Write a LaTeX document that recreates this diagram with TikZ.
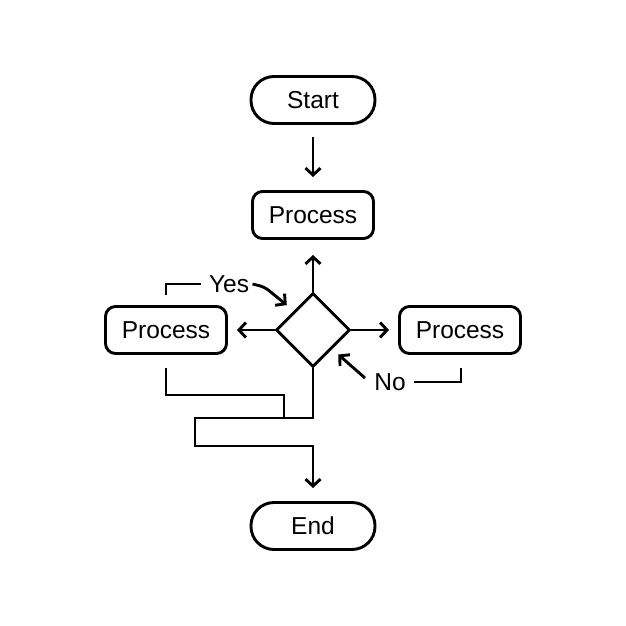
\documentclass[tikz,border=0pt]{standalone}
\usepackage{fontspec}
\setmainfont{Liberation Sans}
\usetikzlibrary{shapes.geometric, arrows.meta}
\tikzstyle{terminal} = [rectangle, draw, rounded corners=23pt,
                 minimum width=124pt, minimum height=47pt, line width=2.9pt]
\tikzstyle{block} = [rectangle, draw, fill=white, rounded corners=10pt,
                 minimum width=121pt, minimum height=47pt, line width=2.9pt]
\tikzstyle{decision} = [diamond, draw, minimum width=74pt, minimum height=74pt,
                 inner sep=0pt, line width=2.9pt]
\tikzstyle{flow} = [line width=2.9pt, -{Straight Barb[length=7pt,width=15pt]}]
\tikzstyle{branch} = [line width=2.9pt, draw]

\begin{document}
\begin{tikzpicture}[x=1pt, y=-1pt, font=\fontsize{24.5}{29}\selectfont]

\useasboundingbox (0,0) rectangle (626,626);

\node [terminal] at (313,100) (start) {Start};
\node [block] at (313,215) (proc) {Process};
\node [decision] at (313,330) (dec) {};
\node [block] at (166,330) (yesproc) {Process};
\node [block] at (460,330) (noproc) {Process};
\node [terminal] at (313,526) (end) {End};

\node at (229,284) (yes) {Yes};
\node at (390,382) (no) {No};

\coordinate (notail) at (365,378);
\coordinate (noup) at ([xshift=1pt,yshift=-13pt]noproc.south);

\draw [flow, shorten <=12pt, shorten >=13pt] (start) -- (proc);
\draw [flow, shorten >=15pt] (dec.north) -- (proc);
\draw [flow, shorten >=9pt] (dec.west) -- (yesproc);
\draw [flow, shorten >=9pt] (dec.east) -- (noproc);

	%labels
\path [branch, shorten >=4pt] ([yshift=10pt]yesproc.north) |- (yes.west);
\draw [flow, rounded corners=5pt, shorten >=9pt] (yes.east) -- ++(12,3) -- (dec.north west);
\draw [flow, shorten >=8pt] (notail) -- (dec.south east);
\path [branch, shorten <=5pt] (no.east) -| (noup);

	%merge
\path [branch] ([yshift=-13pt]yesproc.south) |- (284,395) -- (284,418);
\draw [flow, shorten >=13pt] (dec.south) |- (195,418) |- (313,446) -- (end);

\end{tikzpicture}
\end{document}
